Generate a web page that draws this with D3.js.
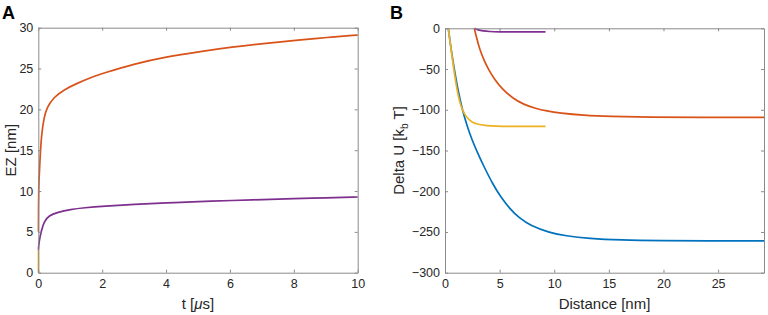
<!DOCTYPE html>
<html>
<head>
<meta charset="utf-8">
<script src="https://cdn.jsdelivr.net/npm/d3@7"></script>
<style>
  body { margin: 0; background: #fff; }
  svg { display: block; font-family: "Liberation Sans", Arial, sans-serif; }
  .tick text { font-size: 12.5px; fill: #262626; }
  .axis-label { font-size: 15px; fill: #262626; }
  .panel-label { font-size: 18px; font-weight: bold; fill: #000; }
</style>
</head>
<body>
<svg id="chart"></svg>
<script>
// ── Panel A: EZ vs t ─────────────────────────────────────────────
const tOrange  = [0, 0.005, 0.02, 0.053, 0.094, 0.18, 0.28, 0.49, 0.8, 1.22, 1.64, 2.06, 2.97, 4.02, 5, 6.1, 7, 8.2, 9, 10];
const ezOrange = [5, 9, 11.3, 13.8, 16.7, 19.1, 20.3, 21.5, 22.4, 23.2, 23.9, 24.45, 25.55, 26.45, 27.05, 27.65, 28.05, 28.5, 28.8, 29.1];
const tPurple  = [0, 0.03, 0.1, 0.18, 0.33, 0.6, 1.01, 1.43, 2.06, 3, 4.02, 5, 6.1, 7, 8, 9, 10];
const ezPurple = [2.8, 4.0, 5.2, 6.25, 7.0, 7.4, 7.75, 7.95, 8.15, 8.37, 8.55, 8.7, 8.85, 8.96, 9.07, 9.17, 9.27];
const tYellow  = [0, 0.002];
const ezYellow = [0, 2.8];
const aXTicks  = [0, 2, 4, 6, 8, 10];
const aYTicks  = [0, 5, 10, 15, 20, 25, 30];

// ── Panel B: Delta U vs distance ─────────────────────────────────
const dBlue    = [0.3, 0.55, 0.8, 1.1, 1.58, 2.0, 2.5, 2.95, 3.5, 4.4, 5.1, 5.9, 6.8, 7.8, 9.6, 11, 13.2, 16, 20, 24, 29.2];
const uBlue    = [0, -25, -46, -70, -100, -119, -138, -152, -168, -192, -207, -221, -233, -242, -251, -254.7, -258, -259.8, -260.6, -261, -261];
const dYellow  = [0.3, 0.55, 0.8, 1.07, 1.35, 1.58, 1.98, 2.5, 2.9, 3.6, 4.7, 6, 9.2];
const uYellow  = [0, -25, -50, -74, -91, -100, -110, -115.5, -117.5, -119.3, -120.2, -120.5, -120.5];
const dOrange  = [2.68, 2.9, 3.2, 3.6, 4.0, 4.5, 5.2, 6.2, 7.2, 8.3, 9.3, 10.5, 12.7, 15, 18.8, 23, 29.2];
const uOrange  = [0, -12, -27, -40, -51, -62, -74, -86, -93.5, -98.5, -101.5, -104, -106.8, -108.2, -109, -109.3, -109.3];
const dPurple  = [2.7, 3.0, 3.5, 4.0, 5, 6, 9.2];
const uPurple  = [0, -2, -3.3, -4, -4.4, -4.5, -4.5];
const bXTicks  = [0, 5, 10, 15, 20, 25];
const bYTicks  = [0, -50, -100, -150, -200, -250, -300];

const COLORS = { blue: "#0072BD", orange: "#D95319", yellow: "#EDB120", purple: "#7E2F8E" };

const svg = d3.select("#chart").attr("width", 768).attr("height", 315);
const zip = (xs, ys) => xs.map((x, i) => ({ x, y: ys[i] }));

function drawPanel(opts) {
  const { box, xDomain, yDomain, xTicks, yTicks, series, xLabel, yLabel, panel } = opts;
  const w = box.right - box.left, h = box.bottom - box.top;
  const g = svg.append("g").attr("transform", `translate(${box.left},${box.top})`);
  const x = d3.scaleLinear().domain(xDomain).range([0, w]);
  const y = d3.scaleLinear().domain(yDomain).range([h, 0]);

  g.append("defs").append("clipPath").attr("id", `clip-${panel}`)
    .append("rect").attr("x", -1).attr("y", -1).attr("width", w + 2).attr("height", h + 2);

  const line = d3.line().x(d => x(d.x)).y(d => y(d.y)).curve(d3.curveBasis);
  g.append("g").attr("clip-path", `url(#clip-${panel})`)
    .selectAll("path.series").data(series).join("path").attr("class", "series")
    .attr("fill", "none").attr("stroke", d => d.color).attr("stroke-width", 1.7)
    .attr("d", d => line(d.values));

  // box with inward ticks on all four sides
  const axisStyle = sel => sel.call(a => a.select(".domain").attr("stroke", "#8a8a8a"))
    .call(a => a.selectAll(".tick line").attr("stroke", "#8a8a8a"));
  g.append("g").attr("transform", `translate(0,${h})`)
    .call(d3.axisBottom(x).tickValues(xTicks).tickSizeInner(-3).tickSizeOuter(0).tickPadding(6).tickFormat(d3.format("d")))
    .call(axisStyle);
  g.append("g")
    .call(d3.axisTop(x).tickValues(xTicks).tickSizeInner(-3).tickSizeOuter(0).tickFormat(""))
    .call(axisStyle);
  g.append("g")
    .call(d3.axisLeft(y).tickValues(yTicks).tickSizeInner(-3).tickSizeOuter(0).tickPadding(5).tickFormat(d3.format("d")))
    .call(axisStyle);
  g.append("g").attr("transform", `translate(${w},0)`)
    .call(d3.axisRight(y).tickValues(yTicks).tickSizeInner(-3).tickSizeOuter(0).tickFormat(""))
    .call(axisStyle);
  g.selectAll(".tick text").attr("font-family", null).attr("font-size", null).attr("fill", null);

  g.append("text").attr("class", "axis-label").attr("x", w / 2).attr("y", h + 36)
    .attr("text-anchor", "middle").call(xLabel);
  g.append("text").attr("class", "axis-label").attr("transform", `translate(${opts.yLabelX - box.left},${h / 2}) rotate(-90)`)
    .attr("text-anchor", "middle").call(yLabel);

  svg.append("text").attr("class", "panel-label").attr("x", opts.labelX).attr("y", 19).text(panel);
}

drawPanel({
  panel: "A",
  labelX: 2,
  box: { left: 38.3, right: 357.7, top: 27.7, bottom: 272.7 },
  xDomain: [0, 10], yDomain: [0, 30], xTicks: aXTicks, yTicks: aYTicks,
  series: [
    { color: COLORS.orange, values: zip(tOrange, ezOrange) },
    { color: COLORS.purple, values: zip(tPurple, ezPurple) },
    { color: COLORS.yellow, values: zip(tYellow, ezYellow) }
  ],
  yLabelX: 16,
  xLabel: t => { t.append("tspan").text("t ["); t.append("tspan").attr("font-style", "italic").text("μ"); t.append("tspan").text("s]"); },
  yLabel: t => t.text("EZ [nm]")
});

drawPanel({
  panel: "B",
  labelX: 390,
  box: { left: 445, right: 764, top: 28.3, bottom: 272.7 },
  xDomain: [0, 29.2], yDomain: [-300, 0], xTicks: bXTicks, yTicks: bYTicks,
  series: [
    { color: COLORS.blue, values: zip(dBlue, uBlue) },
    { color: COLORS.orange, values: zip(dOrange, uOrange) },
    { color: COLORS.yellow, values: zip(dYellow, uYellow) },
    { color: COLORS.purple, values: zip(dPurple, uPurple) }
  ],
  yLabelX: 404,
  xLabel: t => t.text("Distance [nm]"),
  yLabel: t => {
    t.append("tspan").text("Delta U [k");
    t.append("tspan").attr("font-size", "10px").attr("dy", 4).text("b");
    t.append("tspan").attr("dy", -4).text(" T]");
  }
});
</script>
</body>
</html>
